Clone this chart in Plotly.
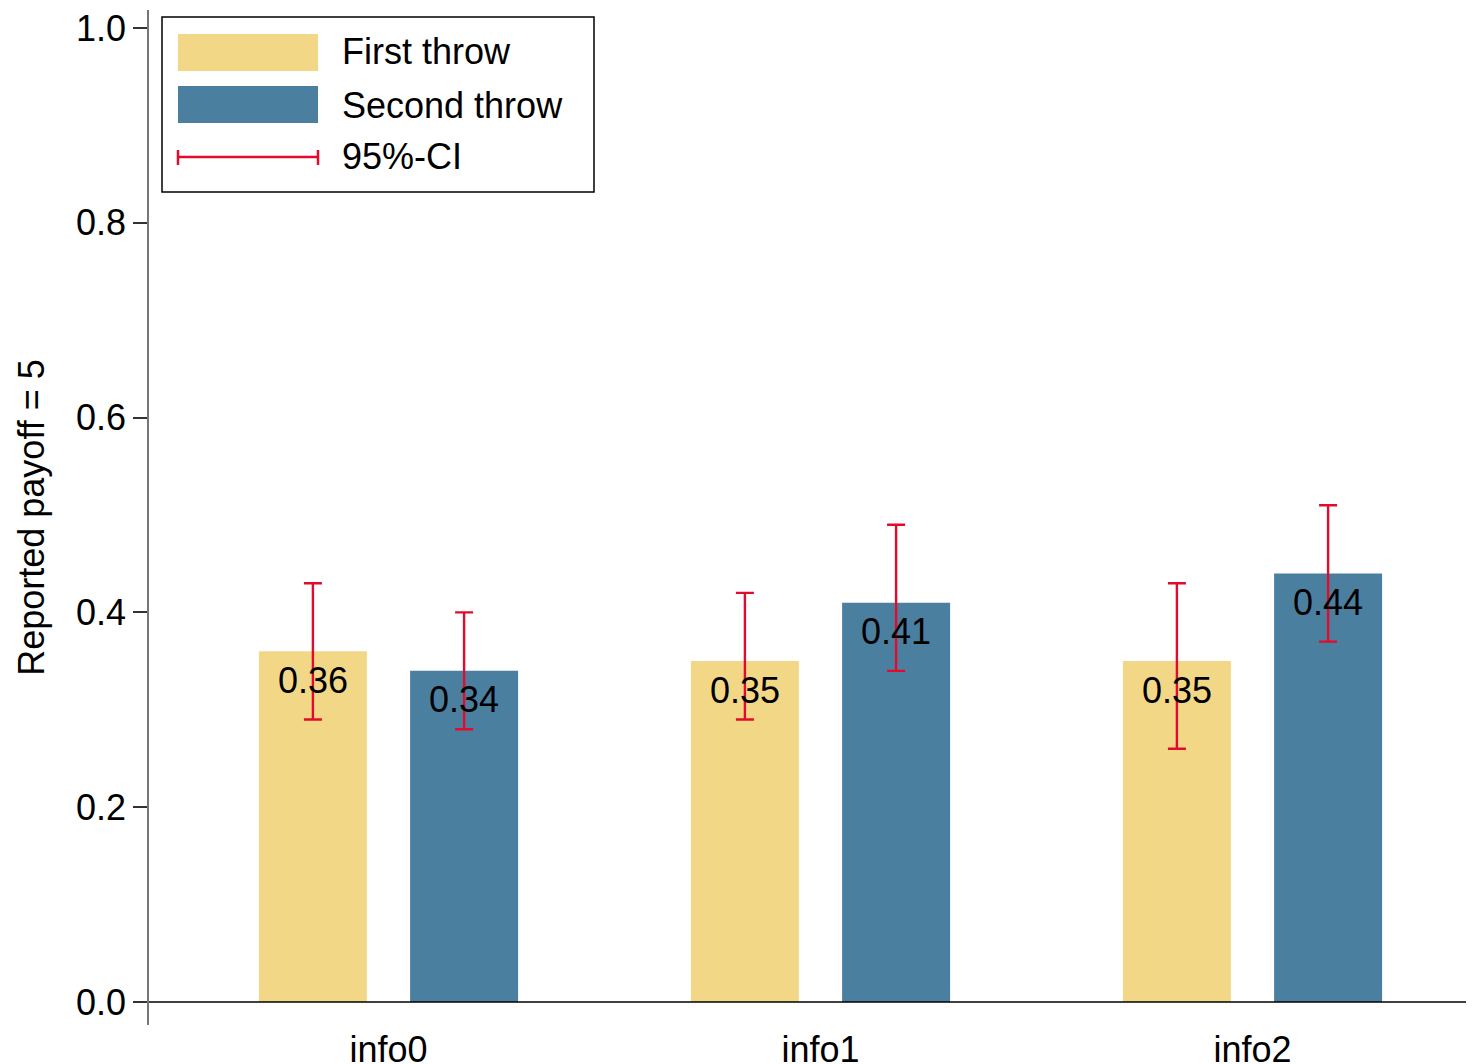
import plotly.graph_objects as go

categories = ["info0", "info1", "info2"]
first_vals = [0.36, 0.35, 0.35]
first_lo = [0.29, 0.29, 0.26]
first_hi = [0.43, 0.42, 0.43]
second_vals = [0.34, 0.41, 0.44]
second_lo = [0.28, 0.34, 0.37]
second_hi = [0.40, 0.49, 0.51]
series_names = ["First throw", "Second throw"]
ci_name = "95%-CI"
y_ticks = [0.0, 0.2, 0.4, 0.6, 0.8, 1.0]

YELLOW = "#F2D886"
BLUE = "#4B7FA0"
RED = "#E30B2C"
FONT = "Liberation Sans, Arial, sans-serif"
FS = 36

# page body has an 8px margin; figure is placed at (8, 8) on screen
OFF = 8
W, H = 1474, 1064 - OFF
L, R, T, B = 149 - OFF, 0, 10 - OFF, 1064 - 1025
PW, PH = W - L - R, H - T - B


def px(x):
    # screen pixel -> paper x
    return (x - OFF - L) / PW


def py(y):
    # screen pixel -> paper y
    return (H - B - (y - OFF)) / PH


# x range from the plot's screen extent (category 0 centred at 388.5px, 432px per category)
X0_PX, STEP = 388.5, 432.0
x_range = [(149 - X0_PX) / STEP, (149 + PW - X0_PX) / STEP]

fig = go.Figure()
for name, vals, lo, hi, col in [
    (series_names[0], first_vals, first_lo, first_hi, YELLOW),
    (series_names[1], second_vals, second_lo, second_hi, BLUE),
]:
    fig.add_trace(go.Bar(
        x=categories, y=vals, name=name, marker=dict(color=col, line=dict(width=0)),
        error_y=dict(type="data", symmetric=False,
                     array=[h - v for h, v in zip(hi, vals)],
                     arrayminus=[v - l for v, l in zip(vals, lo)],
                     color=RED, thickness=2.4, width=9),
        showlegend=False,
    ))

# value labels
for i, c in enumerate(categories):
    for vals, dx in [(first_vals, -0.175), (second_vals, 0.175)]:
        fig.add_annotation(x=i + dx, y=vals[i], xref="x", yref="y",
                           text=f"{vals[i]:.2f}", showarrow=False,
                           yanchor="middle", yshift=-29,
                           font=dict(family=FONT, size=FS, color="black"))

# manual legend + baseline extending to the right page edge
shapes = [
    dict(type="line", xref="paper", yref="y", x0=0, x1=1.02, y0=0, y1=0,
         line=dict(color="black", width=1.5), layer="above"),
    dict(type="rect", xref="paper", yref="paper", x0=px(162), x1=px(594), y0=py(192), y1=py(17),
         line=dict(color="black", width=1.5), fillcolor="white", layer="above"),
    dict(type="rect", xref="paper", yref="paper", x0=px(178), x1=px(318), y0=py(71), y1=py(34),
         line=dict(width=0), fillcolor=YELLOW, layer="above"),
    dict(type="rect", xref="paper", yref="paper", x0=px(178), x1=px(318), y0=py(123), y1=py(86),
         line=dict(width=0), fillcolor=BLUE, layer="above"),
    dict(type="line", xref="paper", yref="paper", x0=px(178), x1=px(318), y0=py(157), y1=py(157),
         line=dict(color=RED, width=2.5), layer="above"),
    dict(type="line", xref="paper", yref="paper", x0=px(178), x1=px(178), y0=py(150), y1=py(165),
         line=dict(color=RED, width=2.5), layer="above"),
    dict(type="line", xref="paper", yref="paper", x0=px(318), x1=px(318), y0=py(150), y1=py(165),
         line=dict(color=RED, width=2.5), layer="above"),
]
for txt, yy in [(series_names[0], 52), (series_names[1], 105), (ci_name, 157)]:
    fig.add_annotation(x=px(340), y=py(yy), xref="paper", yref="paper", text=txt,
                       showarrow=False, xanchor="left", yanchor="middle",
                       font=dict(family=FONT, size=FS, color="black"))

fig.update_layout(
    width=W, height=H,
    margin=dict(l=L, r=R, t=T, b=B, pad=0, autoexpand=False),
    paper_bgcolor="white", plot_bgcolor="white",
    barmode="group", bargap=0.3, bargroupgap=0.2857,
    shapes=shapes,
    font=dict(family=FONT, size=FS, color="black"),
)
fig.update_xaxes(range=x_range, showline=False, showgrid=False, zeroline=False,
                 automargin=False, ticks="", ticklabelstandoff=0, ticklabeloverflow="allow",
                 tickfont=dict(family=FONT, size=FS, color="black"))
fig.update_yaxes(range=[-1 * 23 / 974, 1 + 18 / 974], tickvals=y_ticks,
                 ticktext=[f"{t:.1f}" for t in y_ticks], automargin=False,
                 ticklabeloverflow="allow",
                 showline=True, linecolor="#777", linewidth=1.5,
                 ticks="outside", ticklen=14, tickcolor="#333", tickwidth=1.5,
                 showgrid=False, zeroline=False,
                 tickfont=dict(family=FONT, size=FS, color="black"),
                 title=dict(text="Reported payoff = 5", font=dict(family=FONT, size=FS, color="black"),
                            standoff=20))

fig.write_html("out.html")
